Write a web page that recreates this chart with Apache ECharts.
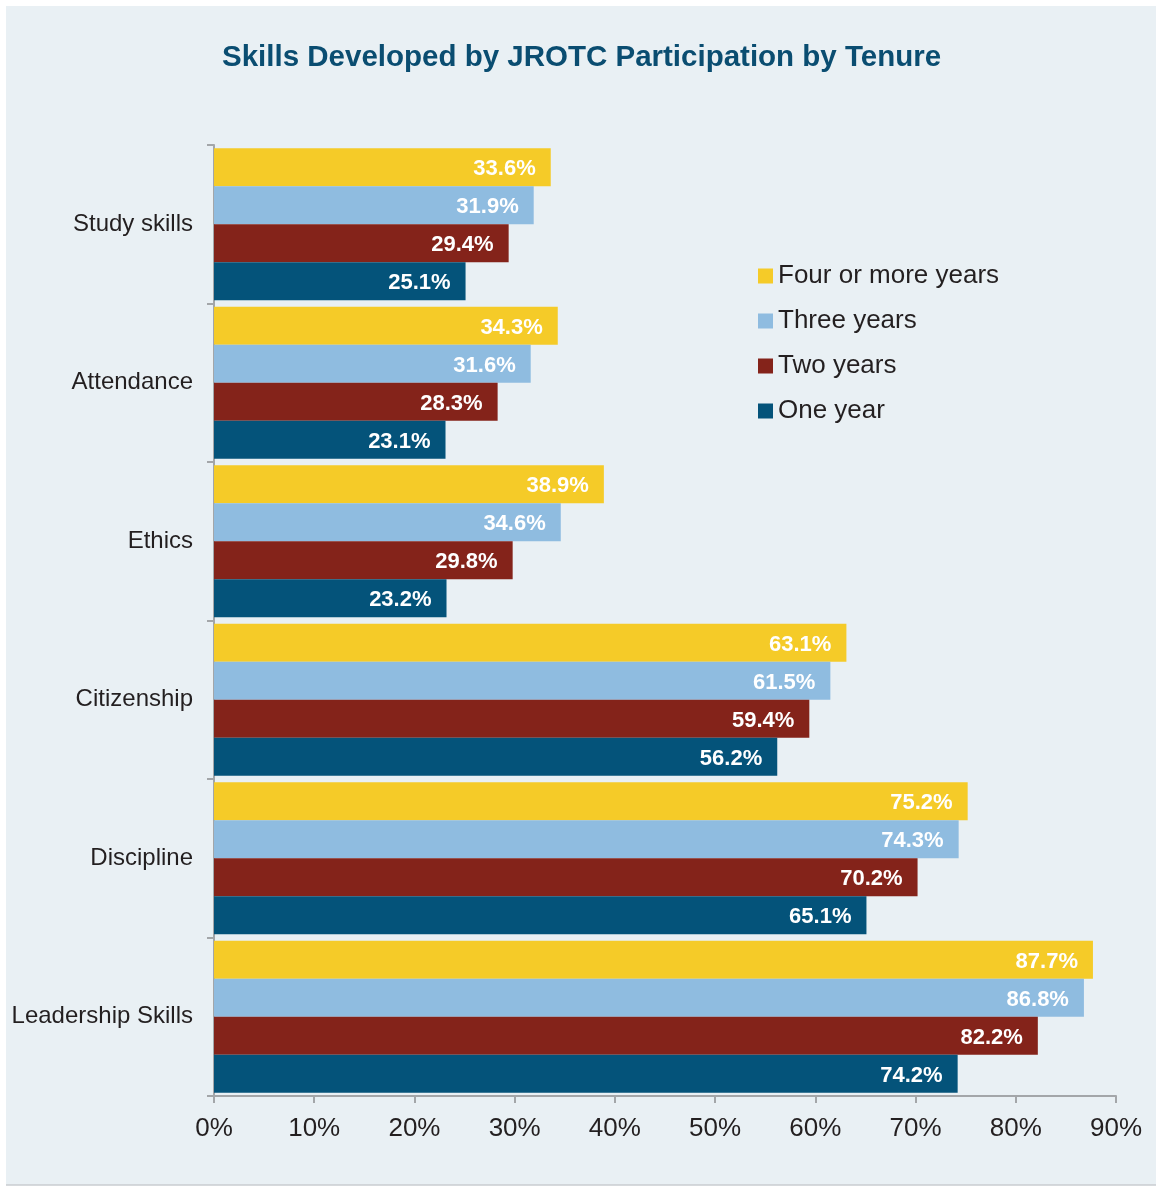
<!DOCTYPE html>
<html><head><meta charset="utf-8">
<style>html,body{margin:0;padding:0;background:#fff;}#c{width:1156px;height:1186px;}</style>
<script src="https://cdn.jsdelivr.net/npm/echarts@6/dist/echarts.min.js"></script>
</head><body><div id="c"></div>
<script>
const categories = ['Study skills','Attendance','Ethics','Citizenship','Discipline','Leadership Skills'];
const seriesNames = ['Four or more years','Three years','Two years','One year'];
const fourPlus = [33.6, 34.3, 38.9, 63.1, 75.2, 87.7];
const three = [31.9, 31.6, 34.6, 61.5, 74.3, 86.8];
const two = [29.4, 28.3, 29.8, 59.4, 70.2, 82.2];
const one = [25.1, 23.1, 23.2, 56.2, 65.1, 74.2];
const colors = ['#F5CB28','#8FBCE0','#84231A','#04537A'];
const values = [fourPlus, three, two, one];

const chart = echarts.init(document.getElementById('c'));
const txt = '#231f20';
const axisGrey = '#a3a6a9';
chart.setOption({
  animation:false,
  graphic:[
    {type:'rect', shape:{x:6,y:6,width:1150,height:1179}, style:{fill:'#e9f0f4'}, z:-10},
    {type:'line', shape:{x1:6,y1:1185,x2:1156,y2:1185}, style:{stroke:'#c9cdd0',lineWidth:1.5}, z:-9}
  ],
  title:{text:'Skills Developed by JROTC Participation by Tenure', left:222, top:43, padding:0,
    textStyle:{fontFamily:'Liberation Sans, Arial, sans-serif', fontWeight:'bold', fontSize:29.5, color:'#0A4D71'}},
  legend:{orient:'vertical', left:758, top:263, padding:0, itemWidth:15, itemHeight:15, itemGap:19,
    icon:'rect', data:seriesNames,
    textStyle:{fontFamily:'Liberation Sans, Arial, sans-serif', fontSize:26, color:txt}},
  grid:{left:214, right:40, top:145, bottom:90, containLabel:false},
  xAxis:{type:'value', min:0, max:90, interval:10,
    axisLine:{show:true, lineStyle:{color:axisGrey, width:2}},
    axisTick:{show:true, length:7, lineStyle:{color:axisGrey, width:2}},
    splitLine:{show:false},
    axisLabel:{formatter:'{value}%', margin:20, fontFamily:'Liberation Sans, Arial, sans-serif', fontSize:26, color:txt}},
  yAxis:{type:'category', data:categories, inverse:true,
    axisLine:{show:true, lineStyle:{color:axisGrey, width:2}},
    axisTick:{show:true, length:7, lineStyle:{color:axisGrey, width:2}},
    axisLabel:{margin:21, fontFamily:'Liberation Sans, Arial, sans-serif', fontSize:24, color:txt}},
  series: seriesNames.map((n,i)=>({
    name:n, type:'bar', data:values[i], barGap:'0%', barCategoryGap:'4%',
    itemStyle:{color:colors[i]},
    label:{show:true, position:'insideRight', distance:15, offset:[0,2], formatter:p=>p.value.toFixed(1)+'%',
      fontFamily:'Liberation Sans, Arial, sans-serif', fontWeight:'bold', fontSize:22, color:'#fff'}
  }))
});
</script></body></html>
